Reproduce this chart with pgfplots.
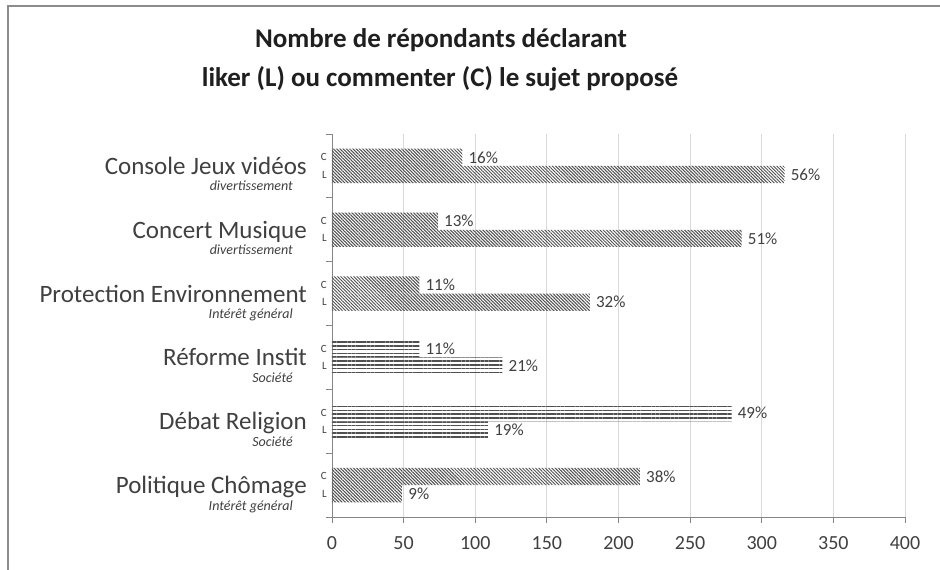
\documentclass[border=0pt]{standalone}
\usepackage{fontspec}
\setmainfont{Carlito}
\usepackage{pgfplots}
\pgfplotsset{compat=1.18}
\usepackage{pgfplotstable}
\usetikzlibrary{patterns.meta}
\definecolor{axisgray}{RGB}{134,134,134}
\definecolor{gridgray}{RGB}{217,217,217}
\definecolor{txt}{RGB}{64,64,64}
\definecolor{hatch}{RGB}{80,80,80}

\pgfplotstableread{
y x p
5 91 16
4 74 13
3 61 11
0 215 38
}\diagC
\pgfplotstableread{
y x p
5 316 56
4 286 51
3 180 32
0 49 9
}\diagL
\pgfplotstableread{
y x p
2 61 11
1 279 49
}\horC
\pgfplotstableread{
y x p
2 119 21
1 109 19
}\horL

\begin{document}
\begin{tikzpicture}
\path[use as bounding box] (0,0) rectangle (940pt,570pt);
\fill[white] (0,0) rectangle (940pt,570pt);
\draw[line width=2pt, color=gray!90] (8pt,0) -- (8pt,564pt) -- (940pt,564pt);
\node[anchor=base, inner sep=0pt, font=\fontsize{27}{30}\selectfont\bfseries, text=black!88] at (441pt,522pt) {Nombre de répondants déclarant};
\node[anchor=base, inner sep=0pt, font=\fontsize{27}{30}\selectfont\bfseries, text=black!88] at (440pt,483pt) {liker (L) ou commenter (C) le sujet proposé};
\begin{axis}[
  at={(332pt,53pt)}, anchor=south west,
  scale only axis, width=573pt, height=383pt,
  xbar, bar width=0.27,
  xmin=0, xmax=400, ymin=-0.5, ymax=5.5,
  clip=false,
  axis x line*=bottom, axis y line*=left,
  axis line style={axisgray, line width=0.9pt, -},
  xmajorgrids, grid style={gridgray, line width=0.9pt},
  tick align=outside,
  major tick length=6pt, minor tick length=6pt,
  tick style={axisgray, line width=0.9pt},
  xtick={0,50,...,400},
  /pgf/number format/assume math mode=true,
  xticklabel style={font=\fontsize{20}{20}\selectfont, text=txt, inner sep=0pt, yshift=-13pt},
  ytick={0,...,5},
  yticklabels={Politique Chômage, Débat Religion, Réforme Instit, Protection Environnement, Concert Musique, Console Jeux vidéos},
  major y tick style={draw=none},
  yticklabel style={font=\fontsize{25}{25}\selectfont, text=txt, inner sep=0pt, anchor=base east, xshift=-19pt, yshift=-8.5pt},
  minor ytick={-0.5,0.5,...,5.5},
  minor y tick style={axisgray, line width=0.9pt},
  extra y ticks={-0.135,0.135,0.865,1.135,1.865,2.135,2.865,3.135,3.865,4.135,4.865,5.135},
  extra y tick labels={L,C,L,C,L,C,L,C,L,C,L,C},
  extra y tick style={yticklabel style={font=\fontsize{11}{11}\selectfont, anchor=east, xshift=20pt, yshift=8.5pt}},
  nodes near coords={\pgfplotspointmeta\%},
  point meta=explicit symbolic,
  every node near coord/.append style={font=\fontsize{17}{17}\selectfont, text=txt, anchor=west, inner sep=0pt, xshift=6pt},
]
\addplot[draw=none, pattern={Lines[angle=-45, distance=2.3pt, line width=1pt]}, pattern color=hatch, bar shift=0.135] table[x=x, y=y, meta=p] {\diagC};
\addplot[draw=none, pattern={Lines[angle=-45, distance=2.3pt, line width=1pt]}, pattern color=hatch, bar shift=-0.135] table[x=x, y=y, meta=p] {\diagL};
\addplot[draw=none, pattern={Lines[angle=0, distance=3.8pt, line width=1.6pt]}, pattern color=hatch, bar shift=0.135] table[x=x, y=y, meta=p] {\horC};
\addplot[draw=none, pattern={Lines[angle=0, distance=3.8pt, line width=1.6pt]}, pattern color=hatch, bar shift=-0.135] table[x=x, y=y, meta=p] {\horL};
\foreach \k/\s in {5/divertissement, 4/divertissement, 3/Intérêt général, 2/Société, 1/Société, 0/Intérêt général} {
  \edef\temp{\noexpand\node[anchor=base east, inner sep=0pt, xshift=-39pt, yshift=-25pt, font=\noexpand\fontsize{14}{14}\noexpand\selectfont\noexpand\itshape, text=txt] at (axis cs:0,\k) {\s};}
  \temp
}
\end{axis}
\end{tikzpicture}
\end{document}
